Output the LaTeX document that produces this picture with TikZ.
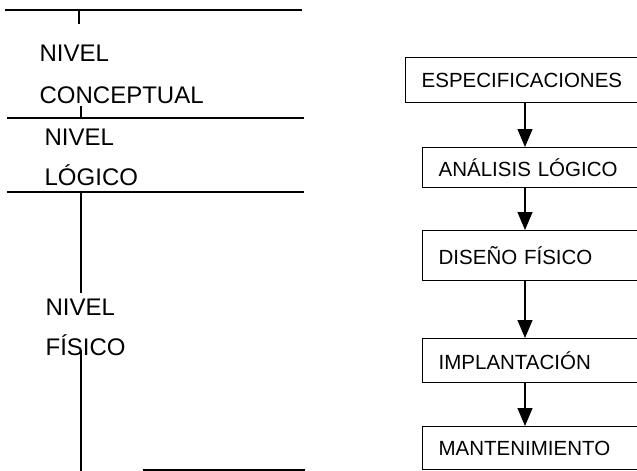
\documentclass[tikz,border=0pt]{standalone}
\usepackage{fontspec}
\setmainfont{Liberation Sans}
\usetikzlibrary{arrows.meta}

\begin{document}
\begin{tikzpicture}[x=1pt,y=-1pt,line width=1.3pt,
	nivel/.style={anchor=base west,inner sep=0pt,font=\fontsize{24}{28}\selectfont},
	fase/.style={draw,anchor=north west,text width=210pt,inner xsep=16pt,inner ysep=0pt,font=\fontsize{20.5}{24}\selectfont},
	flecha/.style={-{Triangle[width=15pt,length=18pt]}}]
	\clip (0,0) rectangle (637,471);
	\node[nivel] (nc1) at (39,61) {NIVEL};
	\node[nivel] (nc2) at (39,103) {CONCEPTUAL};
	\node[nivel] (nl1) at (44,145) {NIVEL};
	\node[nivel] (nl2) at (44,185) {LÓGICO};
	\node[nivel] (nf1) at (45,315) {NIVEL};
	\node[nivel] (nf2) at (45,355) {FÍSICO};
	\draw (5,10) -- (302,10) (79,10) -- (79,24);
	\draw (7,118) -- (304,118) (81,106) -- (81,118);
	\draw (7,192) -- (304,192) (81,192) -- (81,293);
	\draw (81,350) -- (81,471) (143,470) -- (305,470);
	\node[fase,minimum height=45pt] (esp) at (405,57) {ESPECIFICACIONES};
	\node[fase,minimum height=40pt] (ana) at (422,147) {ANÁLISIS LÓGICO};
	\node[fase,minimum height=50pt] (dis) at (422,230) {DISEÑO FÍSICO};
	\node[fase,minimum height=44pt] (imp) at (422,338) {IMPLANTACIÓN};
	\node[fase,minimum height=43pt] (man) at (422,426) {MANTENIMIENTO};
	\coordinate (eje) at (525,0);
	\draw[flecha] (esp.south -| eje) -- (ana.north -| eje);
	\draw[flecha] (ana.south -| eje) -- (dis.north -| eje);
	\draw[flecha] (dis.south -| eje) -- (imp.north -| eje);
	\draw[flecha] (imp.south -| eje) -- (man.north -| eje);
\end{tikzpicture}
\end{document}
